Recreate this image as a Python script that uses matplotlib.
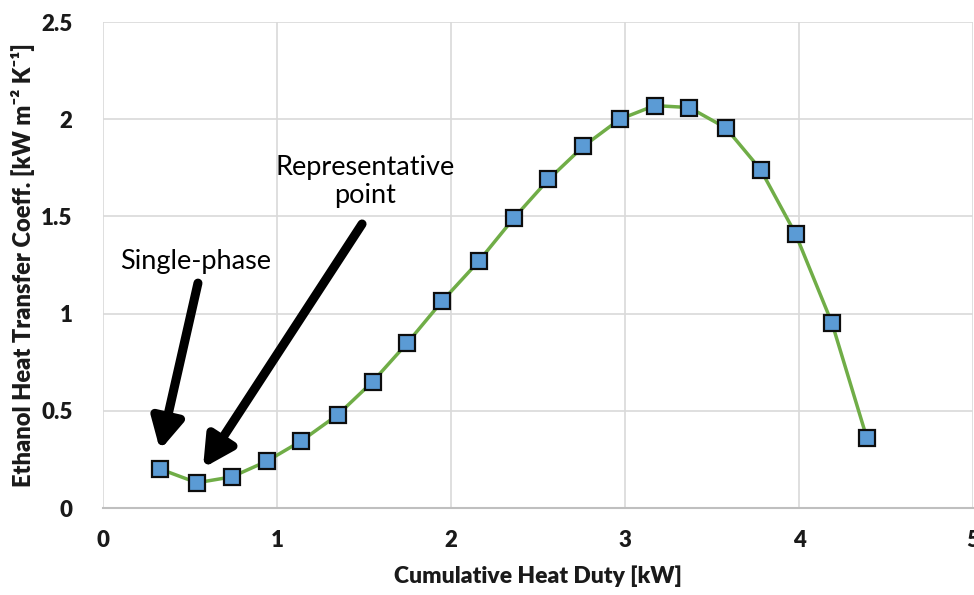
import matplotlib
matplotlib.use("Agg")
import matplotlib.pyplot as plt

# Données
heat_duty = [0.33, 0.54, 0.74, 0.94, 1.14, 1.35, 1.55, 1.75, 1.95, 2.16, 2.36,
             2.56, 2.76, 2.97, 3.17, 3.37, 3.58, 3.78, 3.98, 4.19, 4.39]
htc = [0.20, 0.13, 0.16, 0.24, 0.345, 0.48, 0.65, 0.85, 1.065, 1.27, 1.49,
       1.69, 1.86, 2.00, 2.07, 2.06, 1.955, 1.74, 1.41, 0.95, 0.36]
x_ticks = [0, 1, 2, 3, 4, 5]
y_ticks = [0, 0.5, 1, 1.5, 2, 2.5]
y_tick_labels = ["0", "0.5", "1", "1.5", "2", "2.5"]

plt.rcParams['font.family'] = ['Lato', 'DejaVu Sans']

fig = plt.figure(figsize=(9.74, 5.95), dpi=100)
ax = fig.add_axes([0.1057, 0.1462, 0.8933, 0.8168])

ax.plot(heat_duty, htc, color='#70AD47', linewidth=2.5, zorder=2)
ax.plot(heat_duty, htc, linestyle='none', marker='s', markersize=12,
        markerfacecolor='#5B9BD5', markeredgecolor='#0d0d0d',
        markeredgewidth=1.6, zorder=3)

ax.set_xlim(0, 5)
ax.set_ylim(0, 2.5)
ax.set_xticks(x_ticks)
ax.set_yticks(y_ticks)
ax.set_yticklabels(y_tick_labels)
ax.grid(True, color='#D9D9D9', linewidth=1.2)
ax.set_axisbelow(True)
for s in ['top', 'right', 'left']:
    ax.spines[s].set_visible(False)
ax.spines['bottom'].set_color('#BFBFBF')
ax.spines['bottom'].set_linewidth(1.5)
ax.tick_params(length=0, labelsize=16, colors='#1a1a1a')
ax.tick_params(axis='x', pad=16)
ax.tick_params(axis='y', pad=22)
for lbl in ax.get_xticklabels() + ax.get_yticklabels():
    lbl.set_fontweight('heavy')

ax.set_xlabel("Cumulative Heat Duty [kW]", fontsize=16.5, fontweight='heavy',
              color='#1a1a1a', labelpad=10)
ax.set_ylabel("Ethanol Heat Transfer Coeff. [kW m\u207b\u00b2 K\u207b\u00b9]",
              fontsize=17, fontweight='heavy', color='#1a1a1a', labelpad=4)

arrow = dict(arrowstyle='-|>,head_width=0.95,head_length=1.8', color='black',
             linewidth=6.5, shrinkA=0, shrinkB=0)
ax.annotate("", xy=(0.328, 0.298), xytext=(0.546, 1.157), arrowprops=arrow)
ax.annotate("", xy=(0.575, 0.206), xytext=(1.489, 1.461), arrowprops=arrow)
ax.text(0.534, 1.27, "Single-phase", ha='center', va='center', fontsize=19.5)
ax.text(1.506, 1.682, "Representative\npoint", ha='center', va='center',
        fontsize=19.5, linespacing=1.15)

plt.savefig("out.png", dpi=100)
